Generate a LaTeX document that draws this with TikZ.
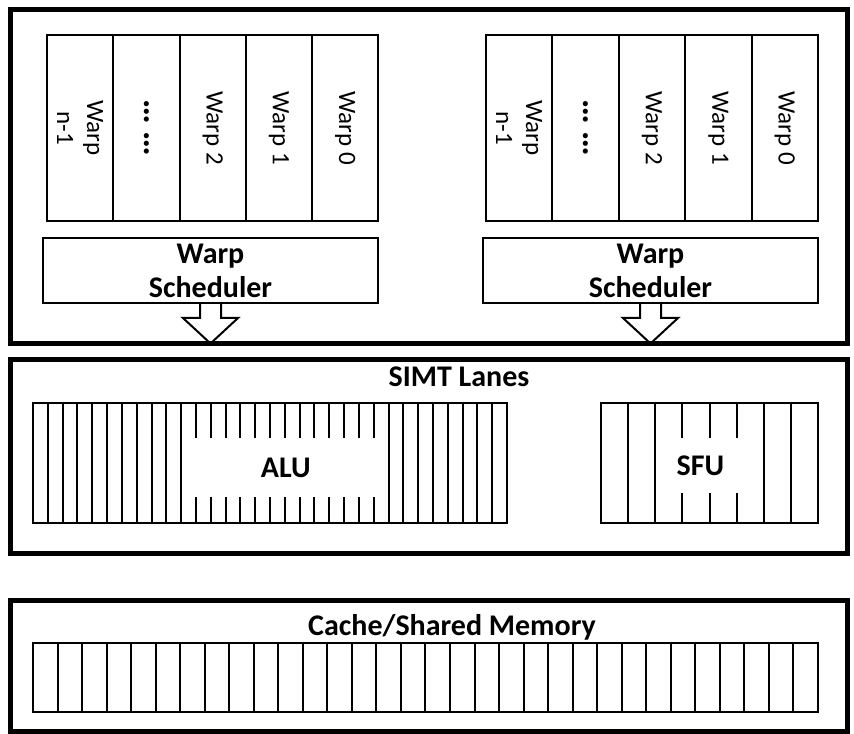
\documentclass[tikz,border=0pt]{standalone}
\usepackage{fontspec}
\setmainfont{Carlito}
\usetikzlibrary{calc}
\newdimen\pxu \pxu=0.75pt
\begin{document}
\begin{tikzpicture}[x=0.75pt,y=-0.75pt,
  outerbox/.style={draw, line width=3.75pt, inner sep=0pt, minimum width=837\pxu},
  warpcell/.style={draw, line width=1.5pt, rotate=-90, minimum width=186\pxu, minimum height=66.3\pxu, inner sep=0pt, align=center, font=\fontsize{18.75}{22.5}\selectfont},
  dotcell/.style={warpcell, font=\bfseries\fontsize{26}{28}\selectfont},
  sched/.style={draw, line width=1.5pt, minimum width=335\pxu, minimum height=65\pxu, inner sep=0pt, align=center, font=\bfseries\fontsize{22.5}{25.5}\selectfont},
  blockarrow/.style={line width=1.5pt, line join=miter},
  lanebox/.style={draw, line width=1.5pt, inner sep=0pt},
  lane/.style={line width=1.5pt},
  gapbox/.style={fill=white, inner sep=0pt, font=\bfseries\fontsize{22.5}{25.5}\selectfont},
  title/.style={inner sep=0pt, anchor=base, font=\bfseries\fontsize{22.5}{25.5}\selectfont}
]
\useasboundingbox (0,0) rectangle (854,734);

% outer boxes
\node[outerbox, minimum height=333.5\pxu] (sm) at (428.5,176.75) {};
\node[outerbox, minimum height=194\pxu] (simt) at (428.5,456.5) {};
\node[outerbox, minimum height=131.5\pxu] (cache) at (428.5,665.75) {};

% warp cells, left
\node[warpcell] (l4) at (80.1,128) {Warp\\n-1};
\node[dotcell] (l3) at (146.4,128) {… …};
\node[warpcell] (l2) at (212.7,128) {Warp 2};
\node[warpcell] (l1) at (279.0,128) {Warp 1};
\node[warpcell] (l0) at (345.3,128) {Warp 0};
% warp cells, right
\node[warpcell] (r4) at (519.2,128) {Warp\\n-1};
\node[dotcell] (r3) at (585.6,128) {… …};
\node[warpcell] (r2) at (652.0,128) {Warp 2};
\node[warpcell] (r1) at (718.4,128) {Warp 1};
\node[warpcell] (r0) at (784.8,128) {Warp 0};

% schedulers
\node[sched] (s1) at (210.5,270.5) {Warp\\Scheduler};
\node[sched] (s2) at (650.5,270.5) {Warp\\Scheduler};

% block arrows
\foreach \s in {s1,s2}{
  \draw[blockarrow] ($(\s.south)+(-10.5,0)$) -- ($(\s.south)+(-10.5,14)$) -- ($(\s.south)+(-27.5,14)$)
    -- ($(\s.south)+(0,39.5)$) -- ($(\s.south)+(27.5,14)$) -- ($(\s.south)+(10.5,14)$) -- ($(\s.south)+(10.5,0)$);
}

% SIMT lanes
\node[title] (simtt) at (459,387) {SIMT Lanes};
\node[lanebox, minimum width=474\pxu, minimum height=120\pxu] (alul) at (270,463) {};
\foreach \i in {1,...,31}{
  \draw[lane] (33+\i*14.8125,403) -- (33+\i*14.8125,523);
}
\node[gapbox, minimum width=202\pxu, minimum height=59\pxu] (alu) at (285.8,467.5) {ALU};

\node[lanebox, minimum width=217\pxu, minimum height=120\pxu] (sful) at (709.5,463) {};
\foreach \i in {1,...,7}{
  \draw[lane] (601+\i*27.125,403) -- (601+\i*27.125,523);
}
\node[gapbox, minimum width=84\pxu, minimum height=55\pxu] (sfu) at (700.5,465.5) {SFU};

% cache
\node[title] (cachet) at (452,635) {Cache/Shared Memory};
\node[lanebox, minimum width=785\pxu, minimum height=69\pxu] (cachel) at (425.5,677.5) {};
\foreach \i in {1,...,31}{
  \draw[lane] (33+\i*24.53,643) -- (33+\i*24.53,712);
}
\end{tikzpicture}
\end{document}
